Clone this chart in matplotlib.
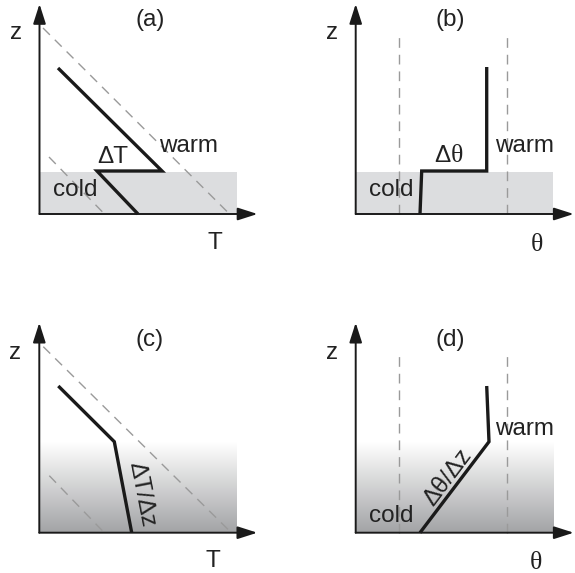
import numpy as np
import matplotlib
matplotlib.use("Agg")
import matplotlib.pyplot as plt
from matplotlib.colors import LinearSegmentedColormap

# Schematic coordinates, in pixels measured from each panel's origin (x right, z up)
# panel (a): temperature profile with a jump
a_prof_x = [18.5, 122.5, 57.5, 98.5]
a_prof_z = [146, 43, 43, 0]
a_dash_hi_x = [3.5, 189]
a_dash_hi_z = [186, 1]
a_dash_lo_x = [9.5, 64]
a_dash_lo_z = [57, 1]
# panel (b): potential temperature profile with a jump
b_prof_x = [64.3, 66, 131, 131]
b_prof_z = [0, 43, 43, 147]
b_dash_x = [43.3, 151.6]
b_dash_top = 182
# panel (c): temperature with gradual layer
c_prof_x = [19, 75, 92.4]
c_prof_z = [146.7, 91, 0]
c_dash_hi_x = [4, 191]
c_dash_hi_z = [186, 1]
c_dash_lo_x = [10, 64]
c_dash_lo_z = [57, 1]
# panel (d): potential temperature with gradual layer
d_prof_x = [64.3, 133.3, 131]
d_prof_z = [0, 91, 146.7]
d_dash_x = [43.3, 151.6]
d_dash_top = 182

shade_w = 197.5
shade_top_ab = 42
shade_top_cd = 91

# panel origins in figure pixels (from top-left)
origins = {"a": (39.5, 214), "b": (355.7, 214), "c": (39.3, 532.7), "d": (355.7, 532.7)}

W, H = 575, 573
fig = plt.figure(figsize=(W / 100, H / 100), dpi=100)
plt.rcParams['font.family'] = ['Liberation Sans', 'DejaVu Sans']

ink = '#1a1a1a'
txt = '#222222'
dash_col = '#9a9a9a'
fs = 17.5


def make_ax(key):
    ox, oy = origins[key]
    ax = fig.add_axes([(ox - 40) / W, (H - (oy + 40)) / H, 260 / W, 255 / H])
    ax.set_xlim(-40, 220)
    ax.set_ylim(-40, 215)
    ax.axis('off')
    # axes with arrow heads
    arr = dict(arrowstyle='-|>,head_length=1.0,head_width=0.32', color=ink,
               lw=1.4, shrinkA=0, shrinkB=0, mutation_scale=12)
    ax.annotate('', xy=(0, 210), xytext=(0, 0), arrowprops=arr)
    ax.annotate('', xy=(218, 0), xytext=(0, 0), arrowprops=arr)
    return ax


def label(ax, panel, xname, zpos, xpos, ppos):
    ax.text(*ppos, panel, fontsize=fs, color=txt, ha='center', va='center')
    ax.text(*zpos, 'z', fontsize=fs, color=txt, ha='center', va='center')
    if xname == 'T':
        ax.text(*xpos, 'T', fontsize=fs, color=txt, ha='center', va='center')
    else:
        ax.text(*xpos, 'θ', fontsize=fs + 1, color=txt, ha='center', va='center',
                family=['Liberation Serif', 'DejaVu Serif'])


dash_kw = dict(color=dash_col, lw=1.0, dashes=(7, 5))
prof_kw = dict(color=ink, lw=2.4, solid_joinstyle='miter', solid_capstyle='butt')

# (a)
ax = make_ax("a")
ax.fill_between([0, shade_w], 0, shade_top_ab, color='#dcdddf', lw=0, zorder=0)
ax.plot(a_dash_hi_x, a_dash_hi_z, **dash_kw)
ax.plot(a_dash_lo_x, a_dash_lo_z, **dash_kw)
ax.plot(a_prof_x, a_prof_z, **prof_kw)
label(ax, '(a)', 'T', (-23.5, 181), (175.5, -29), (110.5, 194))
ax.text(149.5, 68, 'warm', fontsize=fs, color=txt, ha='center', va='center')
ax.text(73.5, 57, 'ΔT', fontsize=fs, color=txt, ha='center', va='center')
ax.text(35.5, 24, 'cold', fontsize=fs, color=txt, ha='center', va='center')

# (b)
ax = make_ax("b")
ax.fill_between([0, shade_w], 0, shade_top_ab, color='#dcdddf', lw=0, zorder=0)
for xd in b_dash_x:
    ax.plot([xd, xd], [0, b_dash_top], **dash_kw)
ax.plot(b_prof_x, b_prof_z, **prof_kw)
label(ax, '(b)', 'θ', (-24, 181), (181, -31), (94.3, 194))
ax.text(169.3, 68, 'warm', fontsize=fs, color=txt, ha='center', va='center')
ax.text(95, 58, 'Δ', fontsize=fs, color=txt, ha='right', va='center')
ax.text(95, 58, 'θ', fontsize=fs + 1, color=txt, ha='left', va='center',
        family=['Liberation Serif', 'DejaVu Serif'])
ax.text(35.3, 24, 'cold', fontsize=fs, color=txt, ha='center', va='center')

# gradient for the lower panels
grad_cmap = LinearSegmentedColormap.from_list('shade', ['#a2a3a5', '#ffffff'])
grad = np.linspace(0, 1, 256).reshape(-1, 1)

# (c)
ax = make_ax("c")
ax.imshow(grad, extent=[0, shade_w, 0, shade_top_cd], origin='lower', cmap=grad_cmap,
          aspect='auto', zorder=0, vmin=0, vmax=1)
ax.set_xlim(-40, 220)
ax.set_ylim(-40, 215)
ax.plot(c_dash_hi_x, c_dash_hi_z, **dash_kw)
ax.plot(c_dash_lo_x, c_dash_lo_z, **dash_kw)
ax.plot(c_prof_x, c_prof_z, **prof_kw)
label(ax, '(c)', 'T', (-24.3, 179.4), (174, -28), (110.7, 192.7))
ax.text(102, 38, 'ΔT/Δz', fontsize=fs, color=txt, ha='center', va='center',
        rotation=-79, rotation_mode='anchor')

# (d)
ax = make_ax("d")
ax.imshow(grad, extent=[0, shade_w, 0, shade_top_cd], origin='lower', cmap=grad_cmap,
          aspect='auto', zorder=0, vmin=0, vmax=1)
ax.set_xlim(-40, 220)
ax.set_ylim(-40, 215)
for xd in d_dash_x:
    ax.plot([xd, xd], [0, d_dash_top], **dash_kw)
ax.plot(d_prof_x, d_prof_z, **prof_kw)
label(ax, '(d)', 'θ', (-24, 179.4), (180.3, -30.6), (94.3, 192.7))
ax.text(169.3, 104, 'warm', fontsize=fs, color=txt, ha='center', va='center')
ax.text(35.3, 17, 'cold', fontsize=fs, color=txt, ha='center', va='center')
ax.text(92.5, 55.5, 'Δθ/Δz', fontsize=fs, color=txt, ha='center', va='center',
        rotation=53, rotation_mode='anchor')

fig.savefig('out.png', dpi=100)
